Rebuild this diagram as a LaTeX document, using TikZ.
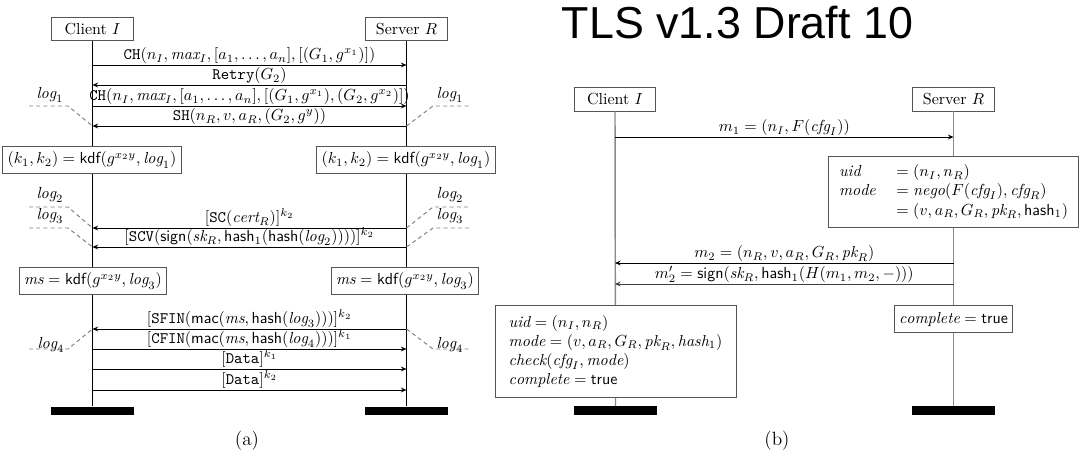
\documentclass[tikz,border=0pt]{standalone}
\usepackage{fontspec}
\newfontfamily\titlefont{Liberation Sans}
\usetikzlibrary{arrows.meta}
\newcommand{\mtt}[1]{\mathtt{#1}}
\newcommand{\msf}[1]{\mathsf{#1}}
\newcommand{\myit}[1]{\mathit{#1}}
\definecolor{boxgray}{HTML}{555555}
\definecolor{lifegray}{HTML}{8A8A8A}
\definecolor{dashgray}{HTML}{808080}
\begin{document}
\begin{tikzpicture}[x=0.625pt,y=-0.625pt,
  head/.style={draw=boxgray, line width=0.6pt, fill=white, minimum width=51pt, minimum height=14.5pt, inner sep=0pt},
  calcbox/.style={draw=boxgray, line width=0.6pt, fill=white, inner xsep=3pt, inner ysep=2pt, minimum height=17pt},
  life/.style={line width=0.8pt, black},
  life2/.style={line width=0.9pt, lifegray},
  msg/.style={-{Stealth[length=3.5pt,width=3pt]}, line width=0.6pt},
  lbl/.style={above, inner sep=0.5pt},
  logline/.style={dashgray, line width=0.6pt, dash pattern=on 2.5pt off 2pt},
  loglbl/.style={inner sep=0pt},
  caption/.style={font=\large, inner sep=0pt},
  bar/.style={fill=black, draw=none, minimum width=51.5pt, minimum height=5.3pt, inner sep=0pt}]
\useasboundingbox (0,0) rectangle (1087,460);

% ================= Panel (a) =================
\node[head] (cI) at (92.5,29) {Client $I$};
\node[head] (sR) at (406.5,29) {Server $R$};
\node[bar] (cbar) at (92.5,411) {};
\node[bar] (sbar) at (406.5,411) {};
\draw[life] (cI.south) -- (cbar.north);
\draw[life] (sR.south) -- (sbar.north);

% messages
\coordinate (ca1) at (92.5,65);  \coordinate (sa1) at (406.5,65);
\coordinate (ca2) at (92.5,85);  \coordinate (sa2) at (406.5,85);
\coordinate (ca3) at (92.5,106); \coordinate (sa3) at (406.5,106);
\coordinate (ca4) at (92.5,126); \coordinate (sa4) at (406.5,126);
\coordinate (ca5) at (92.5,228); \coordinate (sa5) at (406.5,228);
\coordinate (ca6) at (92.5,247); \coordinate (sa6) at (406.5,247);
\coordinate (ca7) at (92.5,329); \coordinate (sa7) at (406.5,329);
\coordinate (ca8) at (92.5,349); \coordinate (sa8) at (406.5,349);
\coordinate (ca9) at (92.5,369); \coordinate (sa9) at (406.5,369);
\coordinate (ca10) at (92.5,390); \coordinate (sa10) at (406.5,390);

\draw[msg] (ca1) -- node[lbl] (la1) {$\mtt{CH}(n_I, \myit{max}_I, [a_1,\ldots,a_n], [(G_1, g^{x_1})])$} (sa1);
\draw[msg] (sa2) -- node[lbl] (la2) {$\mtt{Retry}(G_2)$} (ca2);
\draw[msg] (ca3) -- node[lbl] (la3) {$\mtt{CH}(n_I, \myit{max}_I, [a_1,\ldots,a_n], [(G_1, g^{x_1}), (G_2, g^{x_2})])$} (sa3);
\draw[msg] (sa4) -- node[lbl] (la4) {$\mtt{SH}(n_R, v, a_R, (G_2, g^{y}))$} (ca4);
\draw[msg] (sa5) -- node[lbl] (la5) {$[\mtt{SC}(\myit{cert}_R)]^{k_2}$} (ca5);
\draw[msg] (sa6) -- node[lbl] (la6) {$[\mtt{SCV}(\msf{sign}(\myit{sk}_R, \msf{hash}_1(\msf{hash}(\myit{log}_2))))]^{k_2}$} (ca6);
\draw[msg] (sa7) -- node[lbl] (la7) {$[\mtt{SFIN}(\msf{mac}(\myit{ms}, \msf{hash}(\myit{log}_3)))]^{k_2}$} (ca7);
\draw[msg] (ca8) -- node[lbl] (la8) {$[\mtt{CFIN}(\msf{mac}(\myit{ms}, \msf{hash}(\myit{log}_4)))]^{k_1}$} (sa8);
\draw[msg] (ca9) -- node[lbl] (la9) {$[\mtt{Data}]^{k_1}$} (sa9);
\draw[msg] (ca10) -- node[lbl] (la10) {$[\mtt{Data}]^{k_2}$} (sa10);

% computation boxes
\node[calcbox] (kdfI) at (92,160) {$(k_1,k_2) = \msf{kdf}(g^{x_2 y}, \myit{log}_1)$};
\node[calcbox] (kdfR) at (406,160) {$(k_1,k_2) = \msf{kdf}(g^{x_2 y}, \myit{log}_1)$};
\node[calcbox] (msI) at (93,281) {$\myit{ms} = \msf{kdf}(g^{x_2 y}, \myit{log}_3)$};
\node[calcbox] (msR) at (405,281) {$\myit{ms} = \msf{kdf}(g^{x_2 y}, \myit{log}_3)$};

% log markers
\draw[logline] (29,106) -- (68,106) -- (ca4);
\draw[logline] (sa4) -- (433,106) -- (470,106);
\draw[logline] (29,207) -- (68,207) -- (ca5);
\draw[logline] (29,228) -- (68,228) -- (ca6);
\draw[logline] (sa5) -- (433,207) -- (470,207);
\draw[logline] (sa6) -- (433,228) -- (470,228);
\draw[logline] (29,349) -- (68,349) -- (ca7);
\draw[logline] (sa7) -- (433,349) -- (470,349);
\node[loglbl] (lg1a) at (50,95) {$\myit{log}_1$};
\node[loglbl] (lg1b) at (450,95) {$\myit{log}_1$};
\node[loglbl] (lg2a) at (50,195) {$\myit{log}_2$};
\node[loglbl] (lg2b) at (450,195) {$\myit{log}_2$};
\node[loglbl] (lg3a) at (50,216) {$\myit{log}_3$};
\node[loglbl] (lg3b) at (450,216) {$\myit{log}_3$};
\node[loglbl] (lg4a) at (51,345) {$\myit{log}_4$};
\node[loglbl] (lg4b) at (450,345) {$\myit{log}_4$};

\node[caption] (capa) at (247,441) {(a)};

% ================= Panel (b) =================
\node[anchor=base, inner sep=0pt] (title) at (737.5,38) {\titlefont\fontsize{28}{30}\selectfont TLS v1.3 Draft 10};

\node[head, minimum height=15pt] (cI2) at (615,99) {Client $I$};
\node[head, minimum height=15pt] (sR2) at (953.5,99) {Server $R$};
\node[bar] (cbar2) at (615.5,410.5) {};
\node[bar] (sbar2) at (953.5,410.5) {};
\draw[life2] (cI2.south) -- (cbar2.north);
\draw[life2] (sR2.south) -- (sbar2.north);

\coordinate (cb1) at (615,137); \coordinate (sb1) at (953.5,137);
\coordinate (cb2) at (615,263); \coordinate (sb2) at (953.5,263);
\coordinate (cb3) at (615,284); \coordinate (sb3) at (953.5,284);

\draw[msg] (cb1) -- node[lbl] (lb1) {$m_1 = (n_I, F(\myit{cfg}_I))$} (sb1);
\draw[msg] (sb2) -- node[lbl] (lb2) {$m_2 = (n_R, v, a_R, G_R, \myit{pk}_R)$} (cb2);
\draw[msg, black!75] (sb3) -- node[lbl, text=black] (lb3) {$m_2' = \msf{sign}(\myit{sk}_R, \msf{hash}_1(H(m_1, m_2, -)))$} (cb3);

\node[calcbox, minimum width=156pt, minimum height=44pt] (uidR) at (953.5,192)
  {$\begin{array}{@{}ll@{}}
    \myit{uid} & {}= (n_I, n_R)\\
    \myit{mode} & {}= \myit{nego}(F(\myit{cfg}_I), \myit{cfg}_R)\\
     & {}= (v, a_R, G_R, \myit{pk}_R, \msf{hash}_1)
   \end{array}$};

\node[calcbox, align=left, minimum width=150.6pt, minimum height=58pt] (resI) at (615.5,351.5)
  {$\myit{uid} = (n_I, n_R)$\\
   $\myit{mode} = (v, a_R, G_R, \myit{pk}_R, \myit{hash}_1)$\\
   $\myit{check}(\myit{cfg}_I, \myit{mode})$\\
   $\myit{complete} = \msf{true}$};

\node[calcbox, minimum width=74pt] (compR) at (953.5,319) {$\myit{complete} = \msf{true}$};

\node[caption] (capb) at (777,441) {(b)};
\end{tikzpicture}
\end{document}
